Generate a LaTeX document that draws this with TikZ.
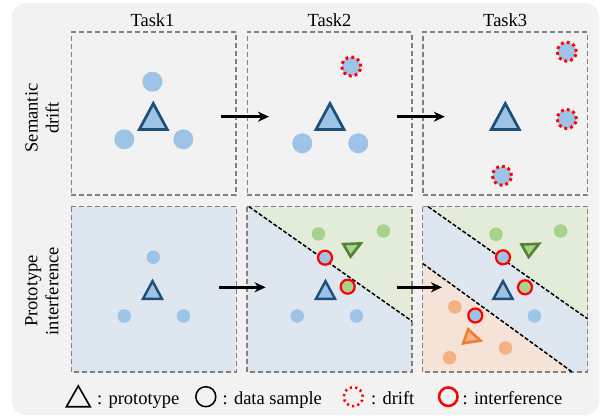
\documentclass[tikz,border=0pt]{standalone}
\usepackage{fontspec}
\setmainfont{Liberation Serif}
\usetikzlibrary{arrows.meta}

\definecolor{bgray}{HTML}{F2F2F2}
\definecolor{boxgray}{HTML}{808080}
\definecolor{smpblue}{HTML}{9DC3E6}
\definecolor{protoblue}{HTML}{1F4E79}
\definecolor{regblue}{HTML}{DEE6EF}
\definecolor{reggreen}{HTML}{E3ECD9}
\definecolor{regorange}{HTML}{F6E3D7}
\definecolor{smpgreen}{HTML}{A9D18E}
\definecolor{protogreen}{HTML}{548235}
\definecolor{smporange}{HTML}{F4B183}
\definecolor{protoorange}{HTML}{ED7D31}
\definecolor{ringred}{HTML}{FF0000}

\tikzset{
  txt/.style={font=\fontsize{18.5}{21}\selectfont, inner sep=0pt},
  panel/.style={minimum width=164.6pt, minimum height=163pt, inner sep=0pt},
  panelrim/.style={draw=boxgray, line width=1.4pt, dash pattern=on 5pt off 3pt},
  sep/.style={black, line width=1.5pt, dash pattern=on 4pt off 2pt},
  bigsmp/.style={circle, inner sep=0pt, minimum size=20pt, fill=smpblue},
  smp/.style={circle, inner sep=0pt, minimum size=13.5pt, fill=#1},
  smp/.default=smpblue,
  driftsmp/.style={circle, inner sep=0pt, minimum size=19pt, fill=smpblue,
    draw=ringred, line width=3pt, dash pattern=on 2.8pt off 3.2pt},
  hit/.style={circle, inner sep=0pt, minimum size=14pt, fill=#1,
    draw=ringred, line width=2.2pt},
  protoB/.style={draw=protoblue, fill=smpblue, line width=2.7pt, line join=miter},
  protoG/.style={draw=protogreen, fill=smpgreen, line width=2.6pt, line join=miter},
  protoO/.style={draw=protoorange, fill=smporange, line width=2.6pt, line join=miter},
  flow/.style={black, line width=2.6pt, -{Stealth[length=11pt,width=10pt,inset=3.5pt]}},
  tri/.pic={\path[pic actions] (0,-13) -- (14,13) -- (-14,13) -- cycle;},
  itri/.pic={\path[pic actions] (-8,-4.5) -- (9.5,-5.2) -- (-0.8,8) -- cycle;},
  otri/.pic={\path[pic actions] (-2.5,-8.5) -- (9.8,2.8) -- (-7.5,5.5) -- cycle;},
}

\begin{document}
\begin{tikzpicture}[x=1pt,y=-1pt]
\useasboundingbox (0,0) rectangle (605,417);
\fill[bgray, rounded corners=14pt] (12,3) rectangle (599,415);

% column titles
\node[txt, anchor=base] (t1) at (152.5,26.5) {Task1};
\node[txt, anchor=base] (t2) at (329.5,26.5) {Task2};
\node[txt, anchor=base] (t3) at (505.2,26.5) {Task3};

% row titles
\node[txt, rotate=90, align=center] (r1) at (42,118) {Semantic\\drift};
\node[txt, rotate=90, align=center] (r2) at (42,291) {Prototype\\interference};

% ---------- row 1: semantic drift ----------
\node[panel, panelrim] (a1) at (153.75,113.6) {};
\node[panel, panelrim] (a2) at (329.5,113.6) {};
\node[panel, panelrim] (a3) at (505.2,113.6) {};

\node[bigsmp] (a1s1) at (152.4,81.7) {};
\node[bigsmp] (a1s2) at (124.3,139.3) {};
\node[bigsmp] (a1s3) at (183.3,139.3) {};
\pic[protoB] at (153.3,116.5) {tri};

\node[driftsmp] (a2s1) at (351.3,66.5) {};
\node[bigsmp] (a2s2) at (302.3,143.3) {};
\node[bigsmp] (a2s3) at (358.3,143.3) {};
\pic[protoB] at (330,116.5) {tri};

\node[driftsmp] (a3s1) at (566.8,51.7) {};
\node[driftsmp] (a3s2) at (566.8,119) {};
\node[driftsmp] (a3s3) at (502,175.7) {};
\pic[protoB] at (505.3,116.5) {tri};

\coordinate (f1a) at (220.8,116.7);
\coordinate (f1b) at (269,116.7);
\coordinate (f2a) at (396.9,116.7);
\coordinate (f2b) at (444.8,116.7);
\draw[flow] (f1a) -- (f1b);
\draw[flow] (f2a) -- (f2b);

% ---------- row 2: prototype interference ----------
\node[panel, fill=regblue, minimum height=165pt] (b1) at (153.75,289.2) {};
\node[panel, fill=regblue, minimum height=165pt] (b2) at (329.5,289.2) {};
\node[panel, fill=regblue, minimum height=165pt] (b3) at (505.2,289.2) {};

% class regions
\coordinate (g2a) at (249,206.7);
\coordinate (g2b) at (411.8,321);
\fill[reggreen] (g2a) -- (b2.north east) -- (g2b) -- cycle;
\coordinate (g3a) at (428.2,206.7);
\coordinate (g3b) at (587.5,318.8);
\fill[reggreen] (g3a) -- (b3.north east) -- (g3b) -- cycle;
\coordinate (o3a) at (422.9,263.6);
\coordinate (o3b) at (571.8,371.7);
\fill[regorange] (o3a) -- (o3b) -- (b3.south west) -- cycle;

\foreach \b in {b1,b2,b3}
  \draw[panelrim] (\b.north west) rectangle (\b.south east);

\draw[sep] (g2a) -- (g2b);
\draw[sep] (g3a) -- (g3b);
\draw[sep] (o3a) -- (o3b);

% task 1
\node[smp] (b1s1) at (153.3,257.3) {};
\node[smp] (b1s2) at (124.3,316) {};
\node[smp] (b1s3) at (183.4,316) {};
\pic[protoB, line width=2.4pt, scale=0.68] at (152.5,290) {tri};

% task 2
\node[smp=smpgreen] (b2g1) at (318.5,234) {};
\node[smp=smpgreen] (b2g2) at (383.4,231) {};
\pic[protoG] at (351.3,248.6) {itri};
\node[hit=smpblue] (b2h1) at (325,257.7) {};
\node[hit=smpgreen] (b2h2) at (347.7,286.7) {};
\pic[protoB, line width=2.4pt, scale=0.68] at (325.5,290) {tri};
\node[smp] (b2s1) at (297.3,316) {};
\node[smp] (b2s2) at (356.4,316) {};

% task 3
\node[smp=smpgreen] (b3g1) at (496,234.3) {};
\node[smp=smpgreen] (b3g2) at (560.6,231) {};
\pic[protoG] at (529.5,249) {itri};
\node[hit=smpblue] (b3h1) at (503,257.3) {};
\node[hit=smpgreen] (b3h2) at (525,287.3) {};
\pic[protoB, line width=2.4pt, scale=0.68] at (503,290) {tri};
\node[smp] (b3s1) at (534.5,316) {};
\node[smp=smporange] (b3o1) at (454.8,307) {};
\node[smp=smporange] (b3o2) at (505.5,348) {};
\node[smp=smporange] (b3o3) at (449.6,357.7) {};
\node[hit=smpblue] (b3h3) at (475.3,315.5) {};
\pic[protoO] at (470.7,337.8) {otri};

\coordinate (f3a) at (218.9,287.3);
\coordinate (f3b) at (265.6,287.3);
\coordinate (f4a) at (396.9,287.3);
\coordinate (f4b) at (442,287.3);
\draw[flow] (f3a) -- (f3b);
\draw[flow] (f4a) -- (f4b);

% ---------- legend ----------
\pic[draw=black, line width=1.6pt, line join=miter, xscale=0.85, yscale=0.8] at (78.3,396.3) {tri};
\node[txt, anchor=base west] (l1) at (97,404) {: prototype};
\node[circle, inner sep=0pt, minimum size=20pt, draw=black, line width=1.5pt] (k2) at (205.8,396.7) {};
\node[txt, anchor=base west] (l2) at (222.5,404) {: data sample};
\node[circle, inner sep=0pt, minimum size=19pt, draw=ringred, line width=2.5pt, dash pattern=on 2.2pt off 3.2pt] (k3) at (353.3,396.7) {};
\node[txt, anchor=base west] (l3) at (371,404) {: drift};
\node[circle, inner sep=0pt, minimum size=18.5pt, draw=ringred, line width=2.5pt] (k4) at (448.3,396.7) {};
\node[txt, anchor=base west] (l4) at (462.5,404) {: interference};
\end{tikzpicture}
\end{document}
